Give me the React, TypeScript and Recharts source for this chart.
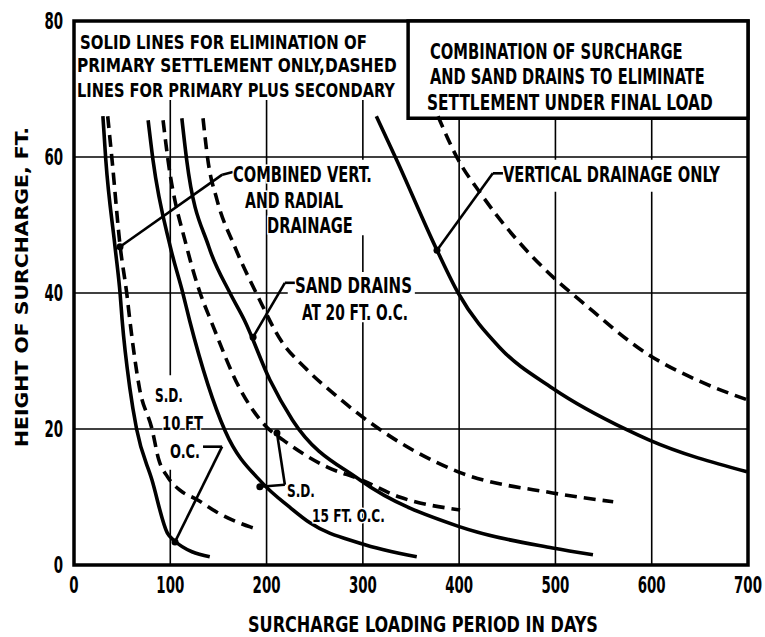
import React from "react";
import {
  LineChart, Line, XAxis, YAxis, CartesianGrid,
  ReferenceArea, ReferenceLine, ReferenceDot,
} from "recharts";

// days on x, height of surcharge (ft) on y
const xTicks = [0, 100, 200, 300, 400, 500, 600, 700];
const yTicks = [0, 20, 40, 60, 80];

type Pt = { days: number; height: number };
const pts = (rows: number[][]): Pt[] => rows.map(([days, height]) => ({ days, height }));

// combined vert. and radial drainage, sand drains 10 ft o.c.
const sd10Primary = pts([
  [30, 66], [33, 59.6], [42.6, 46.8], [48, 39.7], [50, 36], [58, 26], [65, 20],
  [81, 12.5], [97, 4.7], [104, 3.6], [141, 1.2],
]);
const sd10Secondary = pts([
  [35, 66], [39.5, 59.6], [48, 46.8], [55, 39.7], [58, 36], [68, 26], [81, 20],
  [88, 15.5], [97, 13], [110, 11], [128, 9.6], [148, 7.8], [183, 5.6], [192, 5.2],
]);

// sand drains 15 ft o.c.
const sd15Primary = pts([
  [77, 65.4], [82, 59.6], [100, 46.8], [113, 40], [120, 36], [157, 19.7],
  [196, 12], [224, 8.5], [245, 6.2], [297, 3.2], [356, 1.2],
]);
const sd15Secondary = pts([
  [92.5, 65.4], [97.6, 59.6], [117, 46.8], [131, 40], [142, 36], [172, 26],
  [200, 20.3], [217, 18.4], [263, 14.4], [297, 12.6], [338, 10], [401, 8.1],
]);

// sand drains 20 ft o.c.
const sd20Primary = pts([
  [112, 65.7], [117, 59.6], [140, 46.8], [162, 40], [177, 36], [203.5, 27.2],
  [227, 21.3], [297, 12.5], [401, 5.6], [497, 2.5], [539, 1.5],
]);
const sd20Secondary = pts([
  [134, 65.7], [139, 59.6], [148.5, 53.7], [167, 46.8], [191, 39.5], [215, 33],
  [240, 29], [273, 24.8], [307, 21], [399, 13.7], [497, 10.6], [560, 9.3],
]);

// vertical drainage only
const verticalPrimary = pts([
  [314, 66], [335, 59.6], [377, 46.3], [399, 40], [442, 32], [497, 26],
  [574, 19.9], [597, 18.4], [699, 13.7],
]);
const verticalSecondary = pts([
  [378, 66], [399, 59.6], [422, 54.7], [497, 42.4], [525, 39], [597, 30.9],
  [647, 27.2], [699, 24.3],
]);

const curves = [
  { id: "sd10p", data: sd10Primary, dashed: false },
  { id: "sd10s", data: sd10Secondary, dashed: true },
  { id: "sd15p", data: sd15Primary, dashed: false },
  { id: "sd15s", data: sd15Secondary, dashed: true },
  { id: "sd20p", data: sd20Primary, dashed: false },
  { id: "sd20s", data: sd20Secondary, dashed: true },
  { id: "vp", data: verticalPrimary, dashed: false },
  { id: "vs", data: verticalSecondary, dashed: true },
];

// leader lines from the labels to the curves (data coords)
const leaders: [number, number, number, number][] = [
  [165, 57.8, 154, 57.4], [154, 57.4, 47.8, 46.8],
  [229.5, 41.5, 219, 41.5], [219, 41.5, 186, 33.5],
  [445.5, 57.6, 435, 57.6], [435, 57.6, 377, 46.3],
  [134, 17.4, 153.8, 17.4], [153.8, 17.4, 104.9, 3.4],
  [219, 11.8, 193, 11.5], [219, 11.8, 210.8, 19.4],
];
const arrowTips = [[47.8, 46.8], [186, 33.5], [377, 46.3], [104.9, 3.4], [193, 11.5], [210.8, 19.4]];

// white patches where the scan's grid is broken by lettering
const whiteouts = [
  [0.5, 338, 68.4, 80],
  [234.7, 313.6, 48.5, 59.6],
  [222, 354, 35.7, 43.1],
  [442.4, 673, 54.9, 59.6],
  [94.5, 108, 14, 27.9],
];

type NoteLine = { dx: number; dy: number; w: number; text: string };
const notes: { x: number; y: number; size: number; lines: NoteLine[] }[] = [
  {
    x: 3.1, y: 79.26, size: 20, lines: [
      { dx: 3, dy: 22.5, w: 287, text: "SOLID LINES FOR ELIMINATION OF" },
      { dx: 0, dy: 46, w: 320, text: "PRIMARY SETTLEMENT ONLY,DASHED" },
      { dx: 0, dy: 71, w: 318, text: "LINES FOR PRIMARY PLUS SECONDARY" },
    ],
  },
  {
    x: 366.6, y: 79.26, size: 21, lines: [
      { dx: 3, dy: 33, w: 253, text: "COMBINATION OF SURCHARGE" },
      { dx: 3, dy: 58, w: 275, text: "AND SAND DRAINS TO ELIMINATE" },
      { dx: 0, dy: 84, w: 286, text: "SETTLEMENT UNDER FINAL LOAD" },
    ],
  },
  {
    x: 165.1, y: 59.12, size: 21, lines: [
      { dx: 0, dy: 19, w: 139, text: "COMBINED VERT." },
      { dx: 12, dy: 45, w: 98, text: "AND RADIAL" },
      { dx: 34, dy: 70, w: 86, text: "DRAINAGE" },
    ],
  },
  {
    x: 229.5, y: 42.35, size: 21, lines: [
      { dx: 0, dy: 16, w: 117, text: "SAND DRAINS" },
      { dx: 7, dy: 43, w: 106, text: "AT 20 FT. O.C." },
    ],
  },
  {
    x: 445.5, y: 59.12, size: 21, lines: [
      { dx: 0, dy: 19, w: 217, text: "VERTICAL DRAINAGE ONLY" },
    ],
  },
  {
    x: 84.1, y: 26.76, size: 19, lines: [
      { dx: 0, dy: 19, w: 28, text: "S.D." },
      { dx: 7, dy: 47, w: 41, text: "10 FT" },
      { dx: 15, dy: 75, w: 30, text: "O.C." },
    ],
  },
  {
    x: 221.2, y: 12.2, size: 18, lines: [
      { dx: 0, dy: 15, w: 28, text: "S.D." },
      { dx: 25, dy: 40, w: 73, text: "15 FT. O.C." },
    ],
  },
];

const FONT = "'Liberation Sans Narrow', 'DejaVu Sans Condensed', 'Liberation Sans', sans-serif";

// squeeze text to the width it has in the scan
const ctx = typeof document !== "undefined" ? document.createElement("canvas").getContext("2d") : null;
function naturalWidth(text: string, size: number) {
  if (!ctx) return text.length * size * 0.6;
  ctx.font = `700 ${size}px ${FONT}`;
  return ctx.measureText(text).width || text.length * size * 0.6;
}

type FitProps = {
  x: number; y: number; w: number; size: number; text: string;
  anchor?: "start" | "middle" | "end"; rotate?: number; halo?: boolean;
};
function FitText({ x, y, w, size, text, anchor = "start", rotate = 0, halo = false }: FitProps) {
  const sx = w / naturalWidth(text, size);
  const shift = anchor === "middle" ? -w / 2 : anchor === "end" ? -w : 0;
  const tf = `translate(${x},${y})${rotate ? ` rotate(${rotate})` : ""} translate(${shift},0) scale(${sx},1)`;
  return (
    <text
      transform={tf}
      fontFamily={FONT}
      fontWeight={700}
      fontSize={size}
      fill="#000"
      stroke={halo ? "#fff" : "none"}
      strokeWidth={halo ? 3 : 0}
      paintOrder="stroke"
    >
      {text}
    </text>
  );
}

const NoteText = ({ viewBox, note }: any) => (
  <g>
    {note.lines.map((l: NoteLine) => (
      <FitText key={l.text} x={viewBox.x + l.dx} y={viewBox.y + l.dy} w={l.w} size={note.size} text={l.text} halo />
    ))}
  </g>
);

const XTick = ({ x, y, payload }: any) => {
  const s = String(payload.value);
  return <FitText x={x} y={y + 28} w={s.length * 9.3} size={23} text={s} anchor="middle" />;
};

const YTick = ({ x, y, payload }: any) => {
  const s = String(payload.value);
  return <FitText x={x - 11} y={y + 8} w={s.length * 9.3} size={23} text={s} anchor="end" />;
};

const XTitle = ({ viewBox }: any) => (
  <FitText x={viewBox.x + viewBox.width / 2 + 12} y={viewBox.y + 67} w={350} size={21}
    text="SURCHARGE LOADING PERIOD IN DAYS" anchor="middle" />
);

const YTitle = ({ viewBox }: any) => (
  <FitText x={28} y={viewBox.y + viewBox.height / 2 - 6} w={320} size={18}
    text="HEIGHT OF SURCHARGE, FT." anchor="middle" rotate={-90} />
);

export default function App() {
  return (
    <>
      <style>{"body{margin:0;background:#fff}"}</style>
      <LineChart width={765} height={637} margin={{ top: 21, right: 17, bottom: 0, left: 0 }}>
        <CartesianGrid stroke="#000" strokeWidth={1.6} />
        <XAxis
          type="number" dataKey="days" domain={[0, 700]} ticks={xTicks} interval={0}
          axisLine={false} tickLine={false} tickSize={0} tickMargin={0} height={72}
          tick={<XTick />} label={(p: any) => <XTitle {...p} />}
        />
        <YAxis
          type="number" dataKey="height" domain={[0, 80]} ticks={yTicks} interval={0}
          axisLine={false} tickLine={false} tickSize={0} tickMargin={0} width={74}
          tick={<YTick />} label={(p: any) => <YTitle {...p} />}
        />
        {whiteouts.map(([x1, x2, y1, y2], i) => (
          <ReferenceArea key={`w${i}`} x1={x1} x2={x2} y1={y1} y2={y2} fill="#fff" fillOpacity={1} stroke="none" />
        ))}
        <ReferenceArea x1={0} x2={700} y1={0} y2={80} fill="none" stroke="#000" strokeWidth={3.5} />
        <ReferenceArea x1={347} x2={700} y1={65.7} y2={80} fill="#fff" fillOpacity={1} stroke="#000" strokeWidth={3.5} />
        {curves.map((c) => (
          <Line
            key={c.id} data={c.data} dataKey="height" type="monotone" stroke="#000"
            strokeWidth={3.6} strokeDasharray={c.dashed ? "12 7" : undefined}
            dot={false} activeDot={false} isAnimationActive={false}
          />
        ))}
        {leaders.map(([x1, y1, x2, y2], i) => (
          <ReferenceLine key={`l${i}`} segment={[{ x: x1, y: y1 }, { x: x2, y: y2 }]} stroke="#000" strokeWidth={2.6} />
        ))}
        {arrowTips.map(([x, y], i) => (
          <ReferenceDot key={`a${i}`} x={x} y={y} r={3.5} fill="#000" stroke="none" />
        ))}
        {notes.map((n, i) => (
          <ReferenceDot key={`n${i}`} x={n.x} y={n.y} r={0} fill="none" stroke="none"
            label={(p: any) => <NoteText {...p} note={n} />} />
        ))}
      </LineChart>
    </>
  );
}
